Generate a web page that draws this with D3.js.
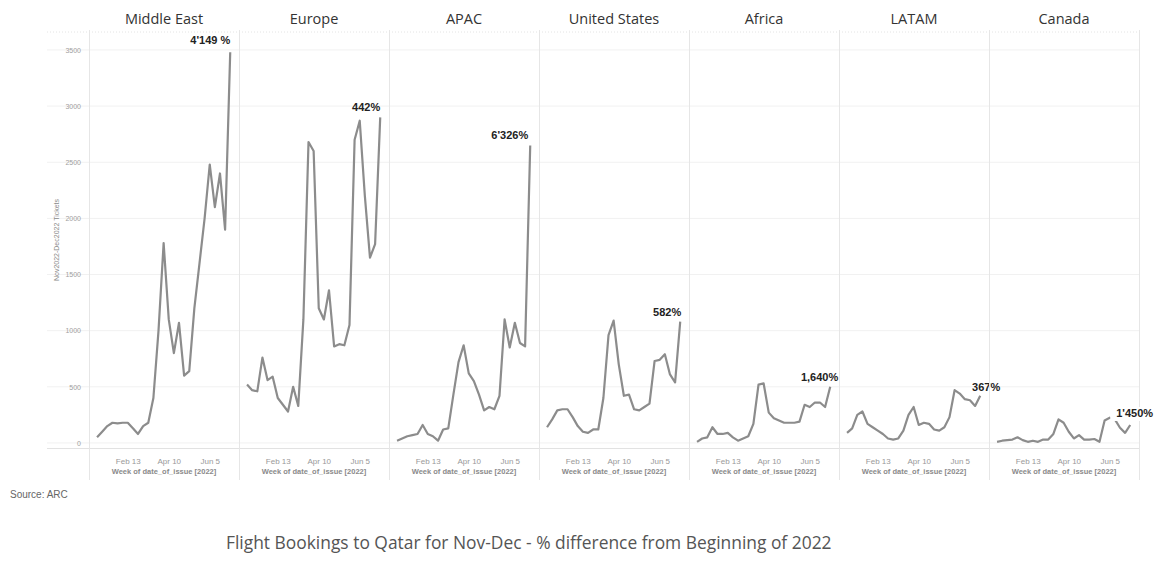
<!DOCTYPE html>
<html>
<head>
<meta charset="utf-8">
<script src="https://cdn.jsdelivr.net/npm/d3@7"></script>
<style>
  body { margin: 0; background: #fff; }
</style>
</head>
<body>
<div id="chart"></div>
<script>
	// data
	var regions = ["Middle East", "Europe", "APAC", "United States", "Africa", "LATAM", "Canada"];
	var weeks = d3.timeWeek.range(new Date(2022, 0, 2), new Date(2022, 6, 4));
	var middleEast = [50,100,150,180,175,180,180,130,80,150,180,400,1000,1780,1100,800,1070,600,640,1200,1600,2000,2480,2100,2400,1900,3480];
	var europe = [520,470,460,760,560,590,400,340,280,500,330,1100,2680,2600,1200,1100,1360,860,880,870,1050,2700,2870,2200,1650,1770,2900];
	var apac = [20,40,60,70,80,160,80,60,20,120,130,430,720,870,620,550,430,290,320,300,420,1100,850,1070,890,860,2650];
	var unitedStates = [140,210,290,300,300,230,150,100,90,120,120,400,960,1090,700,420,430,300,290,320,350,730,740,790,610,540,1080];
	var africa = [10,40,50,140,80,80,90,50,20,40,60,170,520,530,270,220,200,180,180,180,190,340,320,360,360,320,500];
	var latam = [90,130,250,280,170,140,110,80,40,30,40,110,250,320,160,180,170,120,110,140,230,470,440,390,380,330,420];
	var canada = [10,20,25,30,50,25,10,20,10,30,30,80,210,180,100,40,70,30,30,35,10,200,225,210,135,90,160];
	var seriesList = [middleEast, europe, apac, unitedStates, africa, latam, canada];
	var endLabels = ["4'149 %", "442%", "6'326%", "582%", "1,640%", "367%", "1'450%"];
	var yTicks = [0, 500, 1000, 1500, 2000, 2500, 3000, 3500];
	var xTicks = [new Date(2022, 1, 13), new Date(2022, 3, 10), new Date(2022, 5, 5)];

	var wi = 1162, he = 571;
	var left = 89, panelW = 150;

	var svg = d3.select("#chart").append("svg")
		.attr("width", wi)
		.attr("height", he);

	var y = d3.scaleLinear().domain([-45, 3660]).range([448, 32]);
	var x = d3.scaleTime()
		.domain([new Date(2021, 11, 22), new Date(2022, 6, 15)])
		.range([0, panelW]);

	// horizontal grid
	svg.selectAll("line.grid")
		.data(yTicks)
		.enter().append("line")
		.attr("class", "grid")
		.attr("x1", 47).attr("x2", left + panelW * regions.length)
		.attr("y1", function(d) { return y(d); })
		.attr("y2", function(d) { return y(d); })
		.attr("stroke", "#f1f1f1");
	svg.append("line")
		.attr("x1", 47).attr("x2", left + panelW * regions.length)
		.attr("y1", 32).attr("y2", 32)
		.attr("stroke", "#e4e4e4").attr("stroke-dasharray", "1,2");
	svg.append("line")
		.attr("x1", 47).attr("x2", left + panelW * regions.length)
		.attr("y1", 448.5).attr("y2", 448.5)
		.attr("stroke", "#e2e2e2");

	// y axis
	var yAxis = svg.append("g")
		.attr("transform", "translate(" + (left - 5) + ",0)")
		.call(d3.axisLeft(y).tickValues(yTicks).tickFormat(d3.format("d")).tickSize(0));
	yAxis.select(".domain").remove();
	yAxis.selectAll("text")
		.attr("font-family", "Arial, 'Liberation Sans'")
		.attr("font-size", "7px")
		.attr("fill", "#a0a0a0");
	svg.append("text")
		.attr("transform", "translate(59,240) rotate(-90)")
		.attr("text-anchor", "middle")
		.attr("font-family", "Arial, 'Liberation Sans'")
		.attr("font-size", "7px")
		.attr("fill", "#8a8a8a")
		.text("Nov2022-Dec2022 Tickets");

	var line = d3.line()
		.x(function(d, i) { return x(weeks[i]); })
		.y(function(d) { return y(d); });

	var panels = svg.selectAll("g.panel")
		.data(regions)
		.enter().append("g")
		.attr("class", "panel")
		.attr("transform", function(d, i) { return "translate(" + (left + i * panelW) + ",0)"; });

	panels.append("line")
		.attr("x1", 0.5).attr("x2", 0.5)
		.attr("y1", 30).attr("y2", 480)
		.attr("stroke", "#e6e6e6");
	panels.filter(function(d, i) { return i === regions.length - 1; })
		.append("line")
		.attr("x1", panelW + 0.5).attr("x2", panelW + 0.5)
		.attr("y1", 30).attr("y2", 480)
		.attr("stroke", "#e6e6e6");

	panels.append("text")
		.attr("x", panelW / 2).attr("y", 24)
		.attr("text-anchor", "middle")
		.attr("font-family", "'Open Sans', 'Noto Sans', sans-serif")
		.attr("font-size", "14.5px")
		.attr("fill", "#333")
		.text(function(d) { return d; });

	panels.each(function(d, i) {
		var g = d3.select(this);
		var xa = g.append("g")
			.attr("transform", "translate(0,455)")
			.call(d3.axisBottom(x).tickValues(xTicks).tickFormat(d3.timeFormat("%b %-d")).tickSize(0));
		xa.select(".domain").remove();
		xa.selectAll("text")
			.attr("font-family", "Arial, 'Liberation Sans'")
			.attr("font-size", "8px")
			.attr("fill", "#999");
		g.append("text")
			.attr("x", panelW / 2).attr("y", 474)
			.attr("text-anchor", "middle")
			.attr("font-family", "Arial, 'Liberation Sans'")
			.attr("font-size", "7.5px")
			.attr("font-weight", "bold")
			.attr("fill", "#8a8a8a")
			.text("Week of date_of_issue [2022]");

		g.append("path")
			.datum(seriesList[i])
			.attr("d", line)
			.attr("fill", "none")
			.attr("stroke", "#8c8c8c")
			.attr("stroke-width", 2.2)
			.attr("stroke-linejoin", "round");
	});

	// end labels (placed relative to the last point)
	var labelPos = [
		{ dx: 0, dy: -8, anchor: "end" },
		{ dx: 0, dy: -6, anchor: "end" },
		{ dx: -2, dy: -6, anchor: "end" },
		{ dx: 1, dy: -6, anchor: "end" },
		{ dx: 8, dy: -6, anchor: "end" },
		{ dx: 20, dy: -5, anchor: "end" },
		{ dx: -14, dy: -8, anchor: "start" }
	];
	panels.each(function(d, i) {
		var g = d3.select(this);
		var s = seriesList[i];
		var lx = x(weeks[s.length - 1]) + labelPos[i].dx;
		var ly = y(s[s.length - 1]) + labelPos[i].dy;
		var t = g.append("text")
			.attr("x", lx).attr("y", ly)
			.attr("text-anchor", labelPos[i].anchor)
			.attr("font-family", "Arial, 'Liberation Sans'")
			.attr("font-size", "11px")
			.attr("font-weight", "bold")
			.attr("fill", "#222")
			.text(endLabels[i]);
		if (i === regions.length - 1) {
			// white box behind the Canada label, as in the original
			var b = t.node().getBBox();
			g.insert("rect", function() { return t.node(); })
				.attr("x", b.x - 6).attr("y", b.y)
				.attr("width", b.width + 6).attr("height", b.height + 2)
				.attr("fill", "#fff");
		}
	});

	svg.append("text")
		.attr("x", 10).attr("y", 498)
		.attr("font-family", "Arial, 'Liberation Sans'")
		.attr("font-size", "10px")
		.attr("fill", "#666")
		.text("Source: ARC");

	svg.append("text")
		.attr("x", 226).attr("y", 549)
		.attr("font-family", "'Open Sans', 'Noto Sans', sans-serif")
		.attr("font-size", "17.4px")
		.attr("fill", "#555")
		.text("Flight Bookings to Qatar for Nov-Dec - % difference from Beginning of 2022");
</script>
</body>
</html>
